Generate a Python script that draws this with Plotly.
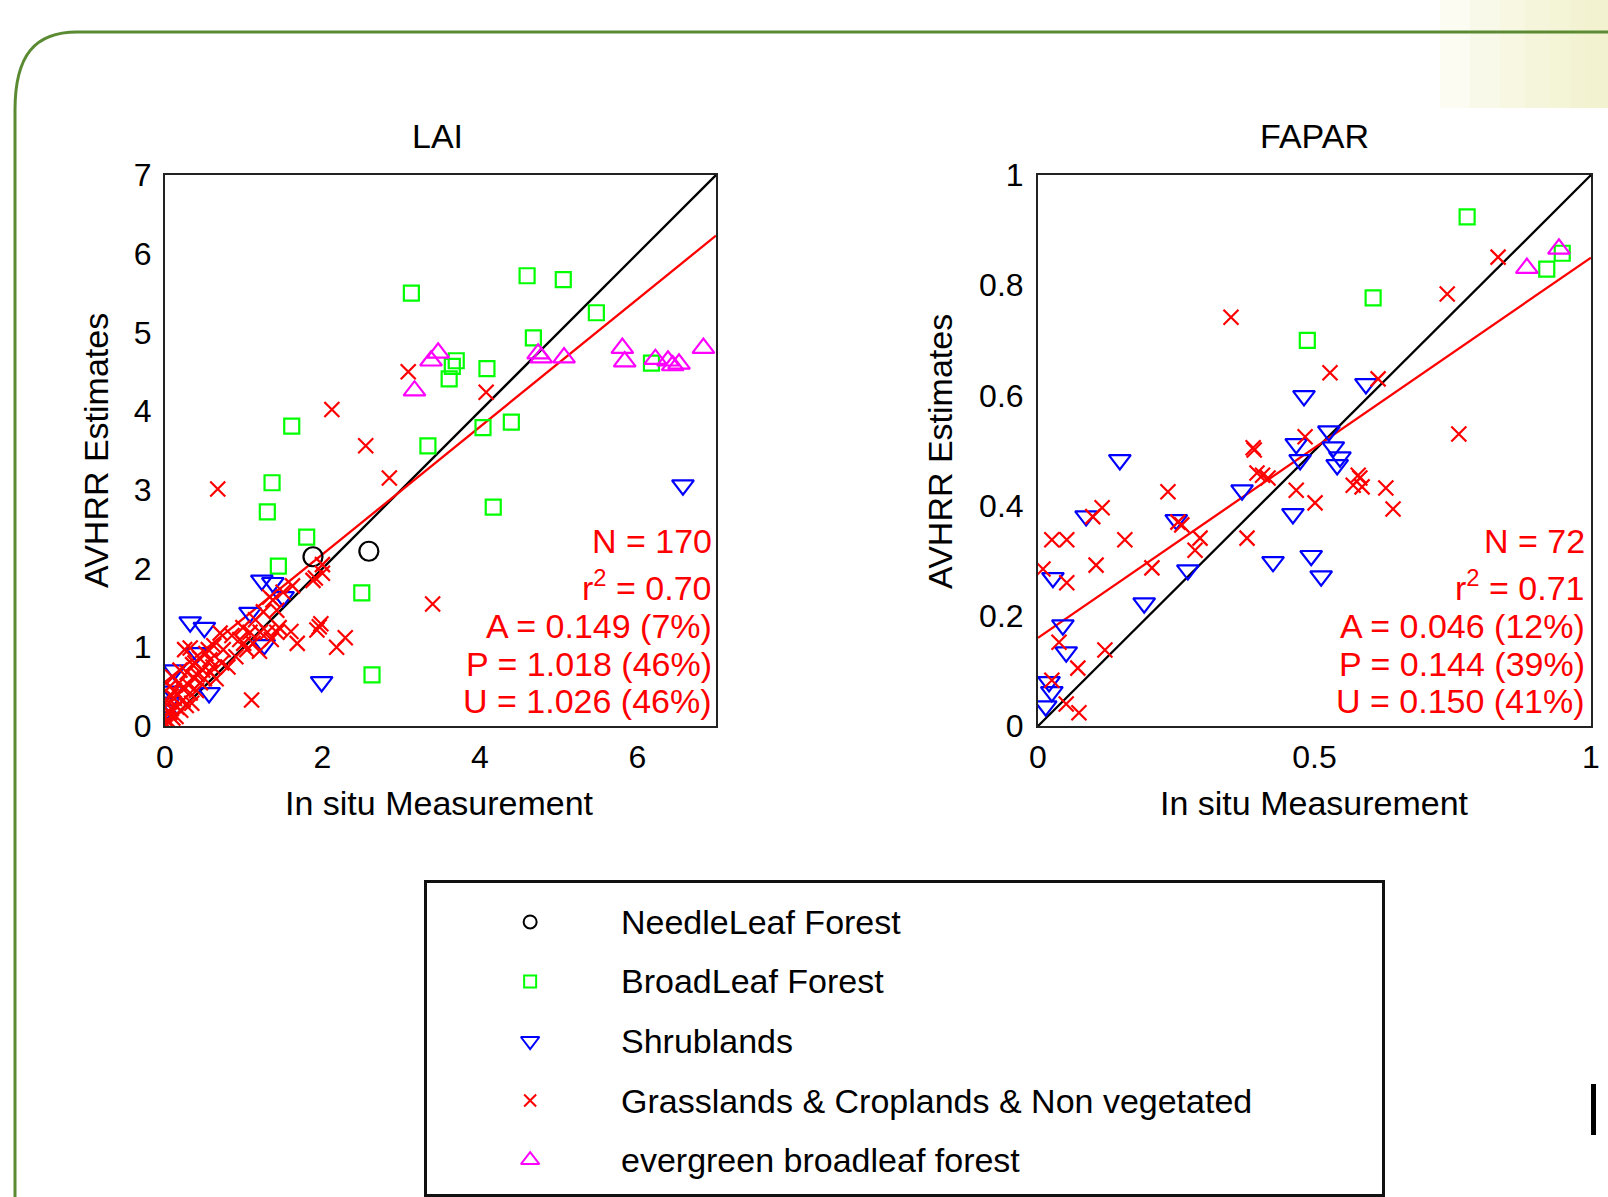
import plotly.graph_objects as go

FONT = "Liberation Sans, Arial, Helvetica, sans-serif"
W, H = 1608, 1197

# ---------------- categories / styles ----------------
categories = ["NeedleLeaf Forest", "BroadLeaf Forest", "Shrublands",
              "Grasslands & Croplands & Non vegetated", "evergreen broadleaf forest"]
symbols = ["circle-open", "square-open", "triangle-down-open", "x-thin-open", "triangle-up-open"]
colors = ["#000000", "#00ff00", "#0000ff", "#ff0000", "#ff00ff"]

# ---------------- LAI data ----------------
lai_needle_x = [1.88, 2.59]
lai_needle_y = [2.15, 2.22]

lai_broad_x = [3.13, 4.60, 5.06, 5.48, 4.68, 3.70, 3.65, 3.61, 4.09, 6.18, 1.61, 3.34, 4.04, 4.40,
               1.36, 1.30, 4.17, 1.80, 1.44, 2.50, 2.63]
lai_broad_y = [5.50, 5.72, 5.67, 5.25, 4.93, 4.64, 4.57, 4.41, 4.54, 4.61, 3.81, 3.56, 3.79, 3.86,
               3.09, 2.72, 2.78, 2.40, 2.03, 1.69, 0.65]

lai_shrub_x = [6.58, 1.23, 1.37, 1.50, 1.08, 0.32, 0.50, 1.26, 0.41, 1.99, 0.56, 0.12, 0.09, 0.05, 0.02, 0.00]
lai_shrub_y = [3.06, 1.85, 1.82, 1.64, 1.44, 1.32, 1.25, 1.03, 0.93, 0.56, 0.42, 0.71, 0.44, 0.30, 0.20, 0.12]

lai_grass_x = [3.09, 2.12, 2.55, 4.08, 0.67, 2.85, 3.40, 2.00, 1.91, 1.96, 1.93, 1.98, 2.29, 2.18, 1.68, 1.10,
               0.70, 0.74, 0.99, 1.08, 1.21, 1.30, 1.42, 1.04, 0.80, 0.61, 0.55, 0.32, 0.25, 0.44, 0.36, 0.41,
               0.48, 0.19, 0.10, 0.06, 0.32, 0.34, 0.23, 0.15, 0.06, 0.03, 1.37, 1.42, 1.33, 1.88, 2.00, 0.57,
               0.12, 0.18, 0.28, 0.38, 0.52, 0.62, 0.85, 1.15, 1.25, 1.50, 1.62, 0.05, 0.08, 0.14, 0.20, 0.27,
               0.40, 0.45, 0.65, 0.90, 1.00, 1.45, 1.60, 0.02, 0.04, 0.10, 0.08, 0.12, 0.16, 0.22, 0.30, 0.35,
               0.50, 0.58, 0.72, 0.95, 1.12, 1.20, 1.35]
lai_grass_y = [4.50, 4.02, 3.56, 4.24, 3.01, 3.15, 1.55, 2.05, 1.88, 1.26, 1.22, 1.30, 1.12, 1.00, 1.05, 0.33,
               1.18, 0.97, 1.25, 1.19, 1.19, 1.19, 1.19, 0.97, 0.75, 0.75, 0.97, 0.99, 0.97, 0.86, 0.62, 0.65,
               0.71, 0.71, 0.62, 0.50, 0.42, 0.29, 0.33, 0.24, 0.17, 0.08, 1.60, 1.47, 1.64, 1.85, 1.94, 0.84,
               0.45, 0.55, 0.68, 0.80, 0.92, 1.02, 1.15, 1.35, 1.45, 1.70, 1.78, 0.30, 0.38, 0.12, 0.20, 0.26,
               0.45, 0.55, 0.60, 0.88, 1.05, 1.25, 1.20, 0.02, 0.05, 0.10, 0.22, 0.35, 0.40, 0.48, 0.52, 0.78,
               0.60, 0.68, 0.80, 1.10, 1.05, 0.95, 1.10]

lai_evergreen_x = [3.17, 3.38, 3.47, 4.74, 4.78, 5.07, 5.81, 5.84, 6.23, 6.39, 6.45, 6.53, 6.84]
lai_evergreen_y = [4.26, 4.64, 4.74, 4.73, 4.68, 4.68, 4.80, 4.63, 4.66, 4.64, 4.58, 4.60, 4.80]

lai_fit = (0.56, 0.81)  # intercept, slope of the red regression line
lai_stats = ["N = 170", "r<sup>2</sup> = 0.70", "A = 0.149 (7%)", "P = 1.018 (46%)", "U = 1.026 (46%)"]

# ---------------- FAPAR data ----------------
fapar_needle_x = []
fapar_needle_y = []

fapar_broad_x = [0.776, 0.948, 0.920, 0.606, 0.487]
fapar_broad_y = [0.924, 0.858, 0.829, 0.777, 0.700]

fapar_shrub_x = [0.148, 0.087, 0.250, 0.369, 0.481, 0.467, 0.474, 0.526, 0.534, 0.546, 0.541, 0.593,
                 0.461, 0.425, 0.494, 0.512, 0.271, 0.192, 0.045, 0.051, 0.027, 0.020, 0.025, 0.014]
fapar_shrub_y = [0.483, 0.381, 0.374, 0.428, 0.599, 0.512, 0.483, 0.535, 0.506, 0.488, 0.474, 0.621,
                 0.385, 0.298, 0.309, 0.272, 0.283, 0.223, 0.183, 0.134, 0.269, 0.080, 0.062, 0.036]

fapar_grass_x = [0.349, 0.483, 0.389, 0.832, 0.740, 0.528, 0.615, 0.761, 0.391, 0.396, 0.406, 0.416,
                 0.467, 0.501, 0.378, 0.570, 0.582, 0.586, 0.579, 0.629, 0.642, 0.235, 0.116, 0.099,
                 0.293, 0.284, 0.157, 0.025, 0.052, 0.105, 0.206, 0.009, 0.052, 0.253, 0.260, 0.121,
                 0.072, 0.038, 0.025, 0.051, 0.074]
fapar_grass_y = [0.742, 0.525, 0.505, 0.851, 0.784, 0.641, 0.630, 0.530, 0.501, 0.459, 0.455, 0.450,
                 0.428, 0.405, 0.341, 0.437, 0.450, 0.434, 0.455, 0.432, 0.394, 0.425, 0.396, 0.380,
                 0.341, 0.319, 0.338, 0.338, 0.338, 0.292, 0.287, 0.285, 0.260, 0.370, 0.365, 0.138,
                 0.105, 0.152, 0.083, 0.040, 0.024]

fapar_evergreen_x = [0.884, 0.942]
fapar_evergreen_y = [0.831, 0.866]

fapar_fit = (0.16, 0.69)
fapar_stats = ["N = 72", "r<sup>2</sup> = 0.71", "A = 0.046 (12%)", "P = 0.144 (39%)", "U = 0.150 (41%)"]

lai_ticks_x = [0, 2, 4, 6]
lai_ticks_y = [0, 1, 2, 3, 4, 5, 6, 7]
fapar_ticks_x = [0, 0.5, 1]
fapar_ticks_x_text = ["0", "0.5", "1"]
fapar_ticks_y = [0, 0.2, 0.4, 0.6, 0.8, 1]
fapar_ticks_y_text = ["0", "0.2", "0.4", "0.6", "0.8", "1"]

# ---------------- figure ----------------
fig = go.Figure()
marker_sizes = [19, 15, 19, 15, 19]
legend_sizes = [13, 12, 16, 12, 16]


def add_panel(groups, fit, rng, xa, ya):
    lo, hi = rng
    fig.add_trace(go.Scatter(x=[lo, hi], y=[lo, hi], mode="lines",
                             line=dict(color="black", width=2.3), xaxis=xa, yaxis=ya,
                             hoverinfo="skip"))
    fig.add_trace(go.Scatter(x=[lo, hi], y=[fit[0] + fit[1] * lo, fit[0] + fit[1] * hi], mode="lines",
                             line=dict(color="red", width=2.3), xaxis=xa, yaxis=ya, hoverinfo="skip"))
    for i, (gx, gy) in enumerate(groups):
        if not gx:
            continue
        fig.add_trace(go.Scatter(
            x=gx, y=gy, mode="markers", name=categories[i], xaxis=xa, yaxis=ya,
            marker=dict(symbol=symbols[i], size=marker_sizes[i], color=colors[i],
                        line=dict(color=colors[i], width=2.2))))


add_panel([(lai_needle_x, lai_needle_y), (lai_broad_x, lai_broad_y), (lai_shrub_x, lai_shrub_y),
           (lai_grass_x, lai_grass_y), (lai_evergreen_x, lai_evergreen_y)], lai_fit, (0, 7), "x", "y")
add_panel([(fapar_needle_x, fapar_needle_y), (fapar_broad_x, fapar_broad_y), (fapar_shrub_x, fapar_shrub_y),
           (fapar_grass_x, fapar_grass_y), (fapar_evergreen_x, fapar_evergreen_y)], fapar_fit, (0, 1), "x2", "y2")

# legend drawn in its own axes (row index on y)
for i, cat in enumerate(categories):
    fig.add_trace(go.Scatter(x=[0.108], y=[i], mode="markers", xaxis="x3", yaxis="y3",
                             marker=dict(symbol=symbols[i], size=legend_sizes[i], color=colors[i],
                                         line=dict(color=colors[i], width=2)),
                             hoverinfo="skip"))
    fig.add_annotation(x=0.201, y=i, xref="x3", yref="y3", text=cat, showarrow=False,
                       xanchor="left", yanchor="middle", font=dict(family=FONT, size=34, color="black"))


def px_x(X):
    return X / W


def px_y(Y):
    return 1 - Y / H


axis_common = dict(showgrid=False, zeroline=False, showline=True, mirror=True, linecolor="#222",
                   linewidth=2, ticks="", tickfont=dict(family=FONT, size=32, color="black"))

fig.update_layout(
    width=W, height=H, autosize=False, margin=dict(l=0, r=0, t=0, b=0, pad=0, autoexpand=False),
    paper_bgcolor="white", plot_bgcolor="white", showlegend=False,
    xaxis=dict(domain=[px_x(165), px_x(716)], range=[0, 7], tickvals=lai_ticks_x,
               anchor="y", ticklabelstandoff=2, **axis_common),
    yaxis=dict(domain=[px_y(726), px_y(175)], range=[0, 7], tickvals=lai_ticks_y,
               anchor="x", ticklabelstandoff=5, **axis_common),
    xaxis2=dict(domain=[px_x(1038), px_x(1591)], range=[0, 1], tickvals=fapar_ticks_x,
                ticktext=fapar_ticks_x_text, anchor="y2", ticklabelstandoff=2, **axis_common),
    yaxis2=dict(domain=[px_y(726), px_y(175)], range=[0, 1], tickvals=fapar_ticks_y,
                ticktext=fapar_ticks_y_text, anchor="x2", ticklabelstandoff=6, **axis_common),
    xaxis3=dict(domain=[px_x(427), px_x(1382)], range=[0, 1], anchor="y3", showgrid=False,
                zeroline=False, showline=True, mirror=True, linecolor="#111", linewidth=3,
                showticklabels=False, ticks=""),
    yaxis3=dict(domain=[px_y(1194), px_y(883)], range=[4.571, -0.655], anchor="x3", showgrid=False,
                zeroline=False, showline=True, mirror=True, linecolor="#111", linewidth=3,
                showticklabels=False, ticks=""),
)

# titles and axis labels
txt = dict(family=FONT, size=34, color="black")
for xc, title in [(437, "LAI"), (1314, "FAPAR")]:
    fig.add_annotation(x=px_x(xc), y=px_y(136), xref="paper", yref="paper", text=title,
                       showarrow=False, xanchor="center", yanchor="middle", font=txt)
for xc in [440, 1314]:
    fig.add_annotation(x=px_x(xc), y=px_y(803), xref="paper", yref="paper", text="In situ Measurement",
                       showarrow=False, xanchor="center", yanchor="middle", font=txt)
for xc in [96, 940]:
    fig.add_annotation(x=px_x(xc), y=px_y(451), xref="paper", yref="paper", text="AVHRR Estimates",
                       showarrow=False, xanchor="center", yanchor="middle", textangle=-90, font=txt)

# statistics text
stat_rows = [0.336, 0.255, 0.181, 0.113, 0.045]
for xa, ya, xr, stats in [("x", "y", 0.996, lai_stats), ("x2", "y2", 0.992, fapar_stats)]:
    for row, s in zip(stat_rows, stats):
        fig.add_annotation(x=xr, y=row, xref=f"{xa} domain", yref=f"{ya} domain", text=s,
                           showarrow=False, xanchor="right", yanchor="middle",
                           font=dict(family=FONT, size=34, color="red"))

# slide decoration: rounded green frame, faint top-right tint, small black bar
path = (f"M {px_x(15)},{px_y(1197)} L {px_x(15)},{px_y(110)} "
        f"C {px_x(15)},{px_y(55)} {px_x(35)},{px_y(32)} {px_x(77)},{px_y(32)} "
        f"L {px_x(1608)},{px_y(32)}")
for x0 in [1440, 1470, 1500, 1525, 1550, 1570, 1585]:
    fig.add_shape(type="rect", x0=px_x(x0), x1=1, y0=px_y(108), y1=1, xref="paper", yref="paper",
                  line=dict(width=0), fillcolor="rgba(242,242,200,0.22)", layer="below")
fig.add_shape(type="path", path=path, xref="paper", yref="paper",
              line=dict(color="#5a8a32", width=3), layer="above")
fig.add_shape(type="rect", x0=px_x(1591), x1=px_x(1596), y0=px_y(1135), y1=px_y(1084),
              xref="paper", yref="paper", line=dict(width=0), fillcolor="black")

fig.write_html("out.html", config={"responsive": False, "displayModeBar": False},
               post_script="document.body.style.margin='0';document.body.style.overflow='hidden';")
